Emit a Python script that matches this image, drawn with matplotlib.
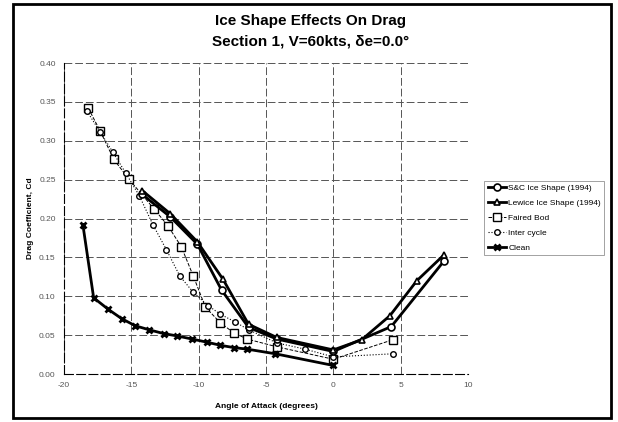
import numpy as np
import matplotlib
matplotlib.use('Agg')
import matplotlib.pyplot as plt
from matplotlib.patches import Rectangle

plt.rcParams['font.family'] = ['Liberation Sans', 'DejaVu Sans']
plt.rcParams['axes.unicode_minus'] = False

# S&C ice shape (1994)
sc_aoa = [-14.2, -12.1, -10.1, -8.3, -6.3, -4.2, 0.0, 4.3, 8.2]
sc_cd = [0.231, 0.202, 0.167, 0.108, 0.060, 0.045, 0.029, 0.061, 0.145]

# Lewice ice shape (1994)
lw_aoa = [-14.2, -12.1, -10.1, -8.2, -6.3, -4.2, 0.0, 2.1, 4.2, 6.2, 8.2]
lw_cd = [0.236, 0.206, 0.170, 0.122, 0.064, 0.047, 0.031, 0.044, 0.075, 0.120, 0.153]

# Faired bod
fb_aoa = [-18.2, -17.3, -16.3, -15.2, -13.3, -12.3, -11.3, -10.4, -9.5, -8.4, -7.4, -6.4, -4.2, 0.0, 4.4]
fb_cd = [0.342, 0.312, 0.276, 0.251, 0.212, 0.191, 0.164, 0.126, 0.086, 0.066, 0.053, 0.045, 0.035, 0.019, 0.044]

# Inter cycle
ic_aoa = [-18.3, -17.3, -16.4, -15.4, -14.4, -13.4, -12.4, -11.4, -10.4, -9.3, -8.4, -7.3, -6.3, -4.2, -2.1, 0.0, 4.4]
ic_cd = [0.338, 0.311, 0.286, 0.258, 0.229, 0.192, 0.160, 0.126, 0.105, 0.088, 0.077, 0.067, 0.057, 0.040, 0.032, 0.022, 0.026]

# Clean
cl_aoa = [-18.6, -17.8, -16.7, -15.7, -14.7, -13.7, -12.6, -11.6, -10.5, -9.4, -8.4, -7.4, -6.4, -4.3, 0.0]
cl_cd = [0.192, 0.098, 0.083, 0.071, 0.062, 0.057, 0.052, 0.049, 0.045, 0.041, 0.037, 0.034, 0.032, 0.026, 0.011]

xticks = [-20, -15, -10, -5, 0, 5, 10]
yticks = [0.0, 0.05, 0.10, 0.15, 0.20, 0.25, 0.30, 0.35, 0.40]
ytick_labels = ['0.00', '0.05', '0.10', '0.15', '0.20', '0.25', '0.30', '0.35', '0.40']

fig = plt.figure(figsize=(6.18, 4.22), dpi=100)
ax = fig.add_axes([0.1036, 0.1137, 0.6537, 0.737])

# outer frame
fig.patches.append(Rectangle((0.021, 0.009), 0.968, 0.982, transform=fig.transFigure,
                             fill=False, edgecolor='black', linewidth=2))

ax.plot(sc_aoa, sc_cd, '-', color='black', lw=2, marker='o', ms=5,
        mfc='white', mec='black', mew=1.2, label='S&C Ice Shape (1994)', zorder=4)
ax.plot(lw_aoa, lw_cd, '-', color='black', lw=2, marker='^', ms=5,
        mfc='white', mec='black', mew=1.2, label='Lewice Ice Shape (1994)', zorder=4)
ax.plot(fb_aoa, fb_cd, '--', color='black', lw=0.7, marker='s', ms=6,
        mfc='white', mec='black', mew=1.0, label='Faired Bod', zorder=3)
ax.plot(ic_aoa, ic_cd, ':', color='black', lw=0.8, marker='o', ms=4,
        mfc='white', mec='black', mew=1.0, label='Inter cycle', zorder=3)
ax.plot(cl_aoa, cl_cd, '-', color='black', lw=2, marker='x', ms=5,
        mec='black', mew=2, label='Clean', zorder=4)

ax.set_xlim(-20, 10)
ax.set_ylim(0, 0.40)
ax.set_xticks(xticks)
ax.set_yticks(yticks)
ax.set_yticklabels(ytick_labels)
ax.tick_params(length=0, labelsize=6, labelcolor='#555555', pad=6)
ax.grid(True, color='#555555', linestyle=(0, (8, 3)), linewidth=0.7)
for side in ['top', 'right']:
    ax.spines[side].set_visible(False)
for side in ['left', 'bottom']:
    ax.spines[side].set_linestyle((0, (8, 3)))
    ax.spines[side].set_linewidth(0.8)

ax.set_xlabel('Angle of Attack (degrees)', fontsize=6, fontweight='bold', labelpad=10)
ax.set_ylabel('Drag Coefficient, Cd', fontsize=6, fontweight='bold', labelpad=4)

fig.text(0.502, 0.950, 'Ice Shape Effects On Drag', ha='center', va='center',
         fontsize=11, fontweight='bold')
fig.text(0.502, 0.901, 'Section 1, V=60kts, \u03b4e=0.0\u00b0', ha='center', va='center',
         fontsize=11, fontweight='bold')

leg = ax.legend(loc='upper left', bbox_to_anchor=(1.04, 0.62), fontsize=6,
                frameon=True, fancybox=False, edgecolor='#777777',
                handlelength=2.2, handletextpad=0.3, labelspacing=0.85,
                borderaxespad=0)
leg.get_frame().set_linewidth(0.6)

fig.savefig('out.png', dpi=100)
